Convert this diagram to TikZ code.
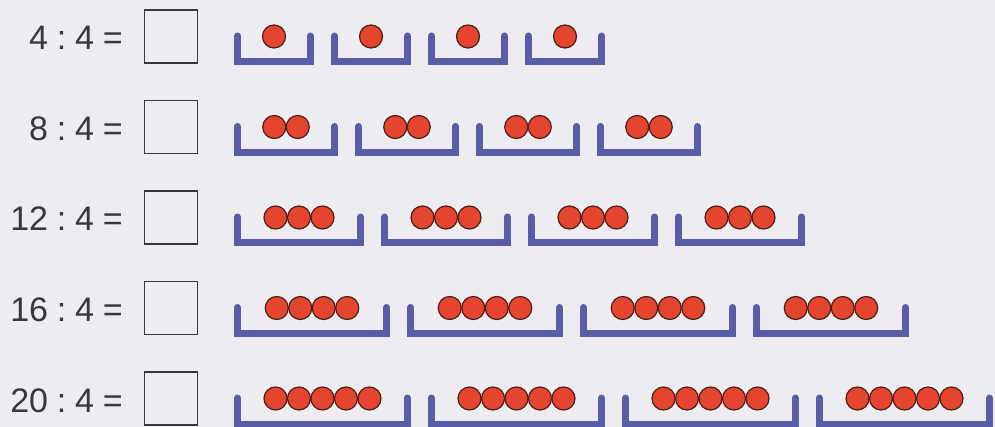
\documentclass[tikz,border=0pt]{standalone}
\usepackage{fontspec}
\setmainfont{Liberation Sans}
\definecolor{paper}{HTML}{ECECF1}
\definecolor{ink}{HTML}{383838}
\definecolor{tray}{HTML}{5B5CA6}
\definecolor{ball}{HTML}{E5452F}
\definecolor{balledge}{HTML}{4A2018}

\begin{document}
\begin{tikzpicture}[x=1pt, y=-1pt,
    eqtext/.style={text=ink, font=\fontsize{34}{34}\selectfont, anchor=base east, inner sep=0pt},
    answerbox/.style={draw=ink, line width=1.8pt, minimum size=53pt, inner sep=0pt},
    traystroke/.style={draw=tray, line width=7pt, line cap=round, line join=miter},
    ballstyle/.style={fill=ball, draw=balledge, line width=1.2pt}]
            % page
            \fill[paper] (0,0) rectangle (995,427);
            \useasboundingbox (0,0) rectangle (995,427);
            % one row for each division
            \foreach \n/\w [count=\r from 0] in {1/80,2/104,3/130,4/156,5/177} {
                \pgfmathsetmacro{\yc}{36.5+90.5*\r}
                \pgfmathtruncatemacro{\dividend}{4*\n}
                \node[eqtext] (eq\n) at (123,\yc+13.5)
                    {\dividend\hspace{0.26em}:\hspace{0.26em}4\hspace{0.26em}=};
                \node[answerbox] (ans\n) at (171,\yc) {};
                % four trays, n balls in each
                \foreach \k in {0,...,3} {
                    \pgfmathsetmacro{\xl}{234+\k*(\w+17)}
                    \draw[traystroke] (\xl+3.5,\yc-0.5) -- (\xl+3.5,\yc+25.5)
                        -- (\xl+\w-3.5,\yc+25.5) -- (\xl+\w-3.5,\yc-0.5);
                    \foreach \j in {1,...,\n}
                        \draw[ballstyle] (\xl+\w/2+\j*23.5-\n*11.75-11.75,\yc) circle (11.5);
                }
            }
        \end{tikzpicture}
\end{document}
